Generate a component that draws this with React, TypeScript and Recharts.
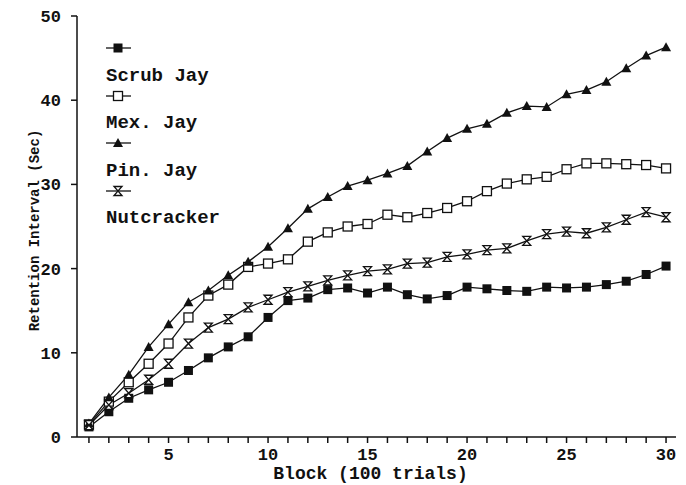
import React from "react";
import { LineChart, Line, XAxis, YAxis, Legend, Label } from "recharts";

const blocks = Array.from({ length: 30 }, (_, i) => i + 1);

const scrubJay = [
  1.2, 3.0, 4.6, 5.6, 6.5, 7.9, 9.4, 10.7, 11.9, 14.2, 16.2, 16.5, 17.5, 17.7, 17.1,
  17.8, 16.9, 16.4, 16.8, 17.8, 17.6, 17.4, 17.3, 17.8, 17.7, 17.8, 18.1, 18.5, 19.3, 20.3,
];
const mexJay = [
  1.5, 4.2, 6.5, 8.7, 11.1, 14.2, 16.8, 18.1, 20.2, 20.6, 21.1, 23.2, 24.3, 25.0, 25.3,
  26.4, 26.1, 26.6, 27.2, 28.0, 29.2, 30.1, 30.6, 30.9, 31.8, 32.5, 32.5, 32.4, 32.3, 31.9,
];
const pinJay = [
  1.6, 4.7, 7.4, 10.7, 13.4, 16.0, 17.4, 19.2, 20.8, 22.6, 24.8, 27.1, 28.5, 29.8, 30.5,
  31.3, 32.2, 33.9, 35.5, 36.6, 37.2, 38.5, 39.3, 39.2, 40.7, 41.2, 42.2, 43.8, 45.3, 46.3,
];
const nutcracker = [
  1.4, 3.8, 5.2, 6.8, 8.7, 11.1, 13.0, 14.0, 15.4, 16.3, 17.2, 17.9, 18.6, 19.2, 19.7,
  19.9, 20.6, 20.7, 21.4, 21.7, 22.2, 22.4, 23.3, 24.1, 24.4, 24.2, 24.9, 25.8, 26.7, 26.1,
];

const yTicks = [0, 10, 20, 30, 40, 50];

const data = blocks.map((b, i) => ({
  block: b,
  scrub: scrubJay[i],
  mex: mexJay[i],
  pin: pinJay[i],
  nut: nutcracker[i],
}));

const FONT = "'Liberation Mono', 'Courier New', monospace";
const INK = "#111";

type Kind = "filledSquare" | "openSquare" | "triangle" | "hourglass";

function Marker({ kind, cx, cy }: { kind: Kind; cx: number; cy: number }) {
  if (kind === "filledSquare")
    return <rect x={cx - 4.5} y={cy - 4.5} width={9} height={9} fill={INK} />;
  if (kind === "openSquare")
    return (
      <rect x={cx - 4.5} y={cy - 4.5} width={9} height={9} fill="#fff" stroke={INK} strokeWidth={1.3} />
    );
  if (kind === "triangle")
    return <path d={`M${cx},${cy - 5} L${cx + 5},${cy + 4} L${cx - 5},${cy + 4} Z`} fill={INK} />;
  return (
    <path
      d={`M${cx - 4},${cy - 4.5} L${cx + 4},${cy - 4.5} L${cx - 4},${cy + 4.5} L${cx + 4},${cy + 4.5} Z`}
      fill="#fff"
      stroke={INK}
      strokeWidth={1.3}
    />
  );
}

const dotFor = (kind: Kind) => (props: any) =>
  <Marker key={`${kind}-${props.index}`} kind={kind} cx={props.cx} cy={props.cy} />;

const legendItems: { name: string; kind: Kind }[] = [
  { name: "Scrub Jay", kind: "filledSquare" },
  { name: "Mex. Jay", kind: "openSquare" },
  { name: "Pin. Jay", kind: "triangle" },
  { name: "Nutcracker", kind: "hourglass" },
];

// legend: marker sample on its own line, then the name underneath
function LegendBox() {
  return (
    <div style={{ fontFamily: FONT, fontWeight: "bold", fontSize: 19, color: INK }}>
      {legendItems.map((it) => (
        <div key={it.name}>
          <svg width={26} height={22.5} style={{ display: "block" }}>
            <line x1={0} y1={7} x2={25} y2={7} stroke={INK} strokeWidth={1.3} />
            <Marker kind={it.kind} cx={12} cy={7} />
          </svg>
          <div style={{ height: 25, lineHeight: "25px", whiteSpace: "nowrap" }}>{it.name}</div>
        </div>
      ))}
    </div>
  );
}

export default function App() {
  return (
    <div style={{ position: "absolute", left: 0, top: 0, background: "#fff" }}>
      <LineChart width={686} height={485} data={data} margin={{ top: 16, right: 10, left: 17, bottom: 0 }}>
        <XAxis
          dataKey="block"
          type="number"
          domain={[0.4, 30.5]}
          ticks={blocks}
          interval={0}
          tickFormatter={(v: number) => (v % 5 === 0 ? String(v) : "")}
          height={48}
          tickSize={6}
          tickMargin={5}
          stroke={INK}
          strokeWidth={1.5}
          tick={{ fill: INK, fontFamily: FONT, fontWeight: "bold", fontSize: 17 }}
        >
          <Label
            value="Block (100 trials)"
            position="insideBottom"
            offset={6}
            dx={-6}
            style={{ fill: INK, fontFamily: FONT, fontWeight: "bold", fontSize: 18 }}
          />
        </XAxis>
        <YAxis
          type="number"
          domain={[0, 50]}
          ticks={yTicks}
          width={60}
          tickSize={6}
          tickMargin={10}
          stroke={INK}
          strokeWidth={1.5}
          tick={{ fill: INK, fontFamily: FONT, fontWeight: "bold", fontSize: 17 }}
        >
          <Label
            value="Retention Interval (Sec)"
            angle={-90}
            position="insideLeft"
            offset={17}
            dy={4}
            style={{ fill: INK, fontFamily: FONT, fontWeight: "bold", fontSize: 14, textAnchor: "middle" }}
          />
        </YAxis>
        <Legend
          layout="horizontal"
          verticalAlign="middle"
          align="center"
          content={() => <LegendBox />}
          wrapperStyle={{ left: 106, top: 41, width: 200, height: 200 }}
        />
        <Line dataKey="scrub" stroke={INK} strokeWidth={1.3} dot={dotFor("filledSquare")} isAnimationActive={false} />
        <Line dataKey="mex" stroke={INK} strokeWidth={1.3} dot={dotFor("openSquare")} isAnimationActive={false} />
        <Line dataKey="pin" stroke={INK} strokeWidth={1.3} dot={dotFor("triangle")} isAnimationActive={false} />
        <Line dataKey="nut" stroke={INK} strokeWidth={1.3} dot={dotFor("hourglass")} isAnimationActive={false} />
      </LineChart>
    </div>
  );
}
